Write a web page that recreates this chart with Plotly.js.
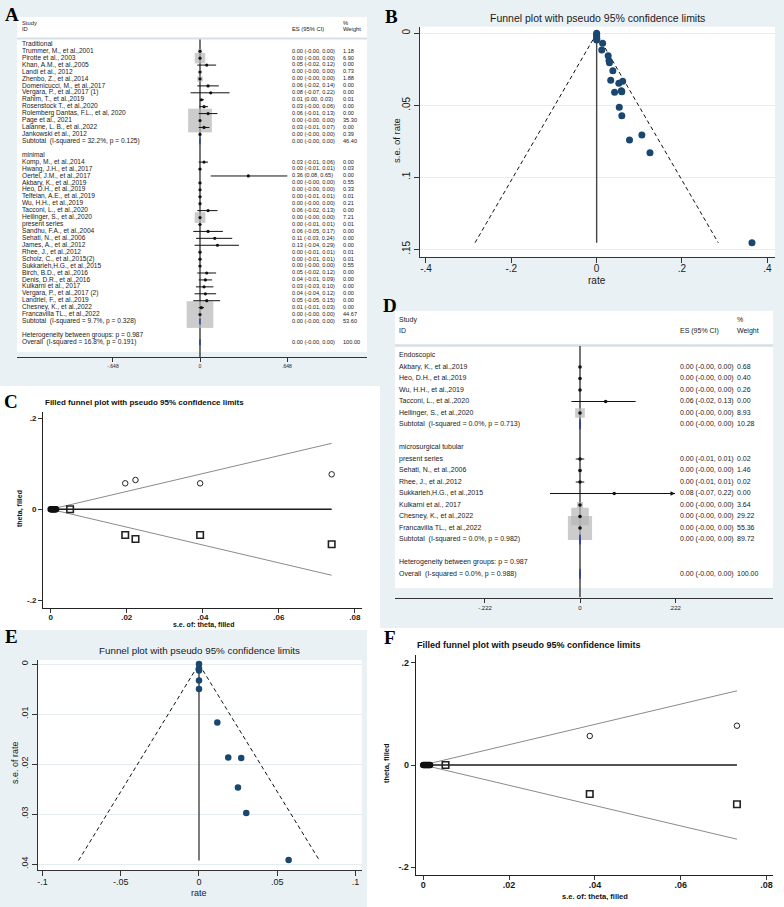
<!DOCTYPE html>
<html><head><meta charset="utf-8">
<script src="https://cdn.plot.ly/plotly-3.0.1.min.js"></script>
<style>html,body{margin:0;padding:0;background:#fff}#chart{width:784px;height:907px}</style>
</head><body><div id="chart"></div>
<script>
// ================= DATA =================
// Panel A: forest plot (Traditional vs minimal)
const aGroupTitles = ["Traditional", "minimal"];
const aTradStudies = ["Trummer, M., et al.,2001","Pirotte et al., 2003","Khan, A.M., et al.,2005","Landi et al., 2012","Zhenbo, Z., et al.,2014","Domenicucci, M., et al.,2017","Vergara, P., et al.,2017 (1)","Rahim, T., et al.,2019","Rosenstock T., et al.,2020","Rolemberg Dantas, F.L., et al, 2020","Page et al., 2021","Lalanne, L. B., et al.,2022","Jankowski et al., 2012"];
const aTradES = [0,0,0.05,0,0,0.06,0.08,0.01,0.03,0.06,0,0.03,0];
const aTradLo = [-0.001,-0.001,-0.02,-0.001,-0.001,-0.02,-0.07,0.002,-0.004,-0.01,-0.001,-0.01,-0.001];
const aTradHi = [0.001,0.001,0.12,0.001,0.001,0.14,0.22,0.03,0.06,0.13,0.001,0.07,0.001];
const aTradWt = [1.18,6.90,0.00,0.73,1.88,0.00,0.00,0.01,0.00,0.00,35.30,0.00,0.39];
const aTradSub = {label:"Subtotal\u00a0 (I-squared = 32.2%, p = 0.125)", es:0, lo:-0.001, hi:0.001, wt:46.40};
const aMinStudies = ["Komp, M., et al.,2014","Hwang, J.H., et al.,2017","Oertel, J.M., et al.,2017","Akbary, K., et al.,2019","Heo, D.H., et al.,2019","Telfeian, A.E., et al.,2019","Wu, H.H., et al.,2019","Tacconi, L., et al.,2020","Hellinger, S., et al.,2020","present series","Sandhu, F.A., et al.,2004","Sehati, N., et al.,2006","James, A., et al.,2012","Rhee, J., et al.,2012","Scholz, C., et al.,2015(2)","Sukkarieh,H.G., et al.,2015","Birch, B.D., et al.,2016","Denis, D.R., et al.,2016","Kulkarni et al., 2017","Vergara, P., et al.,2017 (2)","Landriel, F., et al.,2019","Chesney, K., et al.,2022","Francavilla TL., et al.,2022"];
const aMinES = [0.03,0,0.36,0,0,0,0,0.06,0,0,0.06,0.11,0.13,0,0,0,0.05,0.04,0.03,0.04,0.05,0.01,0];
const aMinLo = [-0.01,-0.01,0.08,-0.001,-0.001,-0.01,-0.001,-0.02,-0.001,-0.01,-0.05,-0.03,-0.04,-0.01,-0.01,-0.001,-0.02,-0.01,-0.03,-0.04,-0.05,-0.01,-0.001];
const aMinHi = [0.06,0.01,0.65,0.001,0.001,0.01,0.001,0.13,0.001,0.01,0.17,0.24,0.29,0.01,0.01,0.001,0.12,0.09,0.10,0.12,0.15,0.03,0.001];
const aMinWt = [0.00,0.03,0.00,0.55,0.33,0.01,0.21,0.00,7.21,0.01,0.00,0.00,0.00,0.01,0.01,0.55,0.00,0.00,0.00,0.00,0.00,0.00,44.67];
const aMinSub = {label:"Subtotal\u00a0 (I-squared = 9.7%, p = 0.328)", es:0, lo:-0.001, hi:0.001, wt:53.60};
const aHetLabel = "Heterogeneity between groups: p = 0.987";
const aOverall = {label:"Overall\u00a0 (I-squared = 16.8%, p = 0.191)", es:0, lo:-0.001, hi:0.001, wt:100.00};
const aTickVals = [-0.648, 0, 0.648];
const aTickText = ["-.648", "0", ".648"];

// Panel B: funnel plot
const bRate = [0,0,0,0,0,0.014,0.012,0.027,0.029,0.030,0.038,0.033,0.052,0.061,0.042,0.058,0.059,0.053,0.059,0.077,0.106,0.125,0.364];
const bSe   = [0,0.001,0.002,0.0035,0.0046,0.0069,0.0116,0.0155,0.019,0.0204,0.0259,0.0326,0.0347,0.0333,0.041,0.0398,0.0405,0.0514,0.0572,0.0741,0.0706,0.0829,0.1454];
const bLimitRate = [-0.285, 0, 0.285];
const bLimitSe = [0.1454, 0, 0.1454];
const bXTickVals = [-0.4,-0.2,0,0.2,0.4];
const bXTickText = ["-.4","-.2","0",".2",".4"];
const bYTickVals = [0,0.05,0.1,0.15];
const bYTickText = ["0",".05",".1",".15"];

// Panel C: filled funnel plot
const cObsSe = [0.0196,0.0223,0.0393,0.0739];
const cObsTheta = [0.0571,0.0644,0.0571,0.0769];
const cFillSe = [0.0051,0.0196,0.0223,0.0393,0.0739];
const cFillTheta = [0,-0.0565,-0.0653,-0.0565,-0.0769];
const cClusterSe = [0,0.0002,0.0004,0.0006,0.0008,0.0010,0.0012,0.0014];
const cClusterTheta = [0,0,0,0,0,0,0,0];
const cLimitSe = [0.0739, 0, 0.0739];
const cLimitTheta = [0.145, 0, -0.145];
const cXTickVals = [0,0.02,0.04,0.06,0.08];
const cXTickText = ["0",".02",".04",".06",".08"];
const cYTickVals = [-0.2,0,0.2];
const cYTickText = ["-.2","0",".2"];

// Panel D: forest plot (Endoscopic vs microsurgical tubular)
const dGroupTitles = ["Endoscopic", "microsurgical tubular"];
const dEndoStudies = ["Akbary, K., et al.,2019","Heo, D.H., et al.,2019","Wu, H.H., et al.,2019","Tacconi, L., et al.,2020","Hellinger, S., et al.,2020"];
const dEndoES = [0,0,0,0.06,0];
const dEndoLo = [-0.001,-0.001,-0.001,-0.02,-0.001];
const dEndoHi = [0.001,0.001,0.001,0.13,0.001];
const dEndoWt = [0.68,0.40,0.26,0.00,8.93];
const dEndoSub = {label:"Subtotal\u00a0 (I-squared = 0.0%, p = 0.713)", es:0, lo:-0.001, hi:0.001, wt:10.28};
const dTubStudies = ["present series","Sehati, N., et al.,2006","Rhee, J., et al.,2012","Sukkarieh,H.G., et al.,2015","Kulkarni et al., 2017","Chesney, K., et al.,2022","Francavilla TL., et al.,2022"];
const dTubES = [0,0,0,0.08,0,0,0];
const dTubLo = [-0.01,-0.001,-0.01,-0.07,-0.001,-0.001,-0.001];
const dTubHi = [0.01,0.001,0.01,0.224,0.001,0.001,0.001];
const dTubWt = [0.02,1.46,0.02,0.00,3.64,29.22,55.36];
const dTubSub = {label:"Subtotal\u00a0 (I-squared = 0.0%, p = 0.982)", es:0, lo:-0.001, hi:0.001, wt:89.72};
const dHetLabel = "Heterogeneity between groups: p = 0.987";
const dOverall = {label:"Overall\u00a0 (I-squared = 0.0%, p = 0.988)", es:0, lo:-0.001, hi:0.001, wt:100.00};
const dTickVals = [-0.222, 0, 0.222];
const dTickText = ["-.222", "0", ".222"];

// Panel E: funnel plot
const eRate = [0,0,0,0,0,0.0117,0.0187,0.0270,0.0249,0.0302,0.0573];
const eSe   = [0,0.0009,0.0013,0.0033,0.005,0.0117,0.0187,0.0188,0.0247,0.0298,0.0392];
const eLimitRate = [-0.077, 0, 0.077];
const eLimitSe = [0.0393, 0, 0.0393];
const eXTickVals = [-0.1,-0.05,0,0.05,0.1];
const eXTickText = ["-.1","-.05","0",".05",".1"];
const eYTickVals = [0,0.01,0.02,0.03,0.04];
const eYTickText = ["0",".01",".02",".03",".04"];

// Panel F: filled funnel plot
const fObsSe = [0.0388,0.0731];
const fObsTheta = [0.0567,0.0768];
const fFillSe = [0.0052,0.0388,0.0731];
const fFillTheta = [0,-0.0567,-0.0768];
const fClusterSe = [0,0.0002,0.0004,0.0006,0.0008,0.0010,0.0012,0.0014,0.0016];
const fClusterTheta = [0,0,0,0,0,0,0,0,0];
const fLimitSe = [0.0731, 0, 0.0731];
const fLimitTheta = [0.145, 0, -0.145];
const fXTickVals = [0,0.02,0.04,0.06,0.08];
const fXTickText = ["0",".02",".04",".06",".08"];
const fYTickVals = [-0.2,0,0.2];
const fYTickText = ["-.2","0",".2"];

// ================= HELPERS =================
const W = 784, H = 907;
const px = v => v / W;
const py = v => 1 - v / H;
const SANS = "Liberation Sans, Arial, sans-serif";
const SERIF = "Liberation Serif, Times New Roman, serif";
const NAVY = "#1a476f";
const BG = "#eaf1f4";
const fmt = v => (v < 0 ? "-" : "") + Math.abs(v).toFixed(2);

function forestRows(groups, hetLabel, overall) {
  const rows = []; let r = 0;
  groups.forEach(g => {
    rows.push({r: r++, label: g.title, kind: "head"});
    g.names.forEach((n, i) => rows.push({r: r++, label: n, es: g.es[i], lo: g.lo[i], hi: g.hi[i], wt: g.wt[i], kind: "study"}));
    rows.push({r: r++, label: g.sub.label, es: g.sub.es, lo: g.sub.lo, hi: g.sub.hi, wt: g.sub.wt, kind: "sub"});
    r++;
  });
  rows.push({r: r++, label: hetLabel, kind: "head"});
  rows.push({r: r++, label: overall.label, es: overall.es, lo: overall.lo, hi: overall.hi, wt: overall.wt, kind: "sub"});
  return rows;
}

function forestTraces(rows, xa, ya, o) {
  const tr = [];
  const studies = rows.filter(d => d.kind === "study");
  const numRows = rows.filter(d => d.kind !== "head");
  const boxed = studies.filter(d => d.wt > 0);
  tr.push({type:"scatter", mode:"lines", xaxis:xa, yaxis:ya, x:[0,0], y:[o.nullTop, o.nullBottom],
    line:{color:"#1a1a1a", width:1.2}, hoverinfo:"skip"});
  tr.push({type:"scatter", mode:"markers", xaxis:xa, yaxis:ya, x:boxed.map(d=>d.es), y:boxed.map(d=>d.r),
    marker:{symbol:"square", size:boxed.map(d=>o.k*Math.sqrt(d.wt)), color:"#b7b7b7", line:{width:0}}, hoverinfo:"skip"});
  tr.push({type:"scatter", mode:"markers", xaxis:xa, yaxis:ya, x:studies.map(d=>d.es), y:studies.map(d=>d.r),
    marker:{symbol:"circle", size:o.dot, color:"#111"},
    error_x:{type:"data", symmetric:false, array:studies.map(d=>Math.min(d.hi,o.clip)-d.es),
      arrayminus:studies.map(d=>d.es-d.lo), width:0, thickness:1, color:"#111"}, hoverinfo:"skip"});
  rows.filter(d => d.kind === "sub").forEach(d => {
    tr.push({type:"scatter", mode:"lines", xaxis:xa, yaxis:ya, fill:"toself", fillcolor:"#2f3f9f",
      x:[d.lo, d.es, d.hi, d.es, d.lo], y:[d.r, d.r-0.42, d.r, d.r+0.42, d.r],
      line:{color:"#2f3f9f", width:1}, hoverinfo:"skip"});
  });
  const tf = (s) => ({family:SANS, size:s, color:"#1a1a1a"});
  tr.push({type:"scatter", mode:"text", xaxis:xa, yaxis:ya, x:rows.map(()=>o.nameX), y:rows.map(d=>d.r),
    text:rows.map(d=>d.label), textposition:"middle right", textfont:tf(o.fName), cliponaxis:false, hoverinfo:"skip"});
  tr.push({type:"scatter", mode:"text", xaxis:xa, yaxis:ya, x:numRows.map(()=>o.esX), y:numRows.map(d=>d.r),
    text:numRows.map(d=>fmt(d.es)+" ("+fmt(d.lo)+", "+fmt(d.hi)+")"), textposition:"middle right", textfont:tf(o.fNum), cliponaxis:false, hoverinfo:"skip"});
  tr.push({type:"scatter", mode:"text", xaxis:xa, yaxis:ya, x:numRows.map(()=>o.wtX), y:numRows.map(d=>d.r),
    text:numRows.map(d=>d.wt.toFixed(2)), textposition:"middle right", textfont:tf(o.fNum), cliponaxis:false, hoverinfo:"skip"});
  tr.push({type:"scatter", mode:"text", xaxis:xa, yaxis:ya,
    x:[o.nameX, o.nameX, o.esX, o.wtX, o.wtX], y:[o.hdr1, o.hdr2, o.hdr2, o.hdr1, o.hdr2],
    text:["Study","ID","ES (95% CI)","%","Weight"], textposition:"middle right", textfont:tf(o.fHead), cliponaxis:false, hoverinfo:"skip"});
  return tr;
}

// ================= BUILD =================
const aRows = forestRows([
  {title:aGroupTitles[0], names:aTradStudies, es:aTradES, lo:aTradLo, hi:aTradHi, wt:aTradWt, sub:aTradSub},
  {title:aGroupTitles[1], names:aMinStudies, es:aMinES, lo:aMinLo, hi:aMinHi, wt:aMinWt, sub:aMinSub}
], aHetLabel, aOverall);
const dRows = forestRows([
  {title:dGroupTitles[0], names:dEndoStudies, es:dEndoES, lo:dEndoLo, hi:dEndoHi, wt:dEndoWt, sub:dEndoSub},
  {title:dGroupTitles[1], names:dTubStudies, es:dTubES, lo:dTubLo, hi:dTubHi, wt:dTubWt, sub:dTubSub}
], dHetLabel, dOverall);

const aRow = p => (p - 44.3) / 6.93;
const dRow = p => (p - 355.5) / 11.5;
const aX = p => (p - 200) / 134.3;
const dX = p => (p - 580) / 428;

let traces = [];
traces = traces.concat(forestTraces(aRows, "x", "y", {
  k:4, dot:3.2, clip:10, nameX:aX(22), esX:aX(292), wtX:aX(343),
  fName:6.6, fNum:5.6, fHead:5.8, hdr1:aRow(24), hdr2:aRow(29.5), nullTop:aRow(39.5), nullBottom:aRow(357)
}));
traces = traces.concat(forestTraces(dRows, "x4", "y4", {
  k:3.25, dot:3.6, clip:dTickVals[2], nameX:dX(399), esX:dX(680), wtX:dX(737),
  fName:7, fNum:7, fHead:7, hdr1:dRow(320), hdr2:dRow(331), nullTop:dRow(346), nullBottom:dRow(597.5)
}));

traces.push({type:"scatter", mode:"lines", xaxis:"x2", yaxis:"y2", x:bLimitRate, y:bLimitSe,
  line:{color:"#111", width:1, dash:"4px,3px"}, hoverinfo:"skip"});
traces.push({type:"scatter", mode:"lines", xaxis:"x2", yaxis:"y2", x:[0,0], y:[0, bLimitSe[0]],
  line:{color:"#444", width:1.4}, hoverinfo:"skip"});
traces.push({type:"scatter", mode:"markers", xaxis:"x2", yaxis:"y2", x:bRate, y:bSe,
  marker:{color:NAVY, size:7}, hoverinfo:"skip"});
traces.push({type:"scatter", mode:"lines", xaxis:"x5", yaxis:"y5", x:eLimitRate, y:eLimitSe,
  line:{color:"#111", width:1, dash:"4px,3px"}, hoverinfo:"skip"});
traces.push({type:"scatter", mode:"lines", xaxis:"x5", yaxis:"y5", x:[0,0], y:[0, eLimitSe[0]],
  line:{color:"#444", width:1.4}, hoverinfo:"skip"});
traces.push({type:"scatter", mode:"markers", xaxis:"x5", yaxis:"y5", x:eRate, y:eSe,
  marker:{color:NAVY, size:6.5}, hoverinfo:"skip"});

function filledTraces(xa, ya, limSe, limTh, obsSe, obsTh, fillSe, fillTh, clSe, clTh) {
  return [
    {type:"scatter", mode:"lines", xaxis:xa, yaxis:ya, x:limSe, y:limTh, line:{color:"#8a8a8a", width:1}, hoverinfo:"skip"},
    {type:"scatter", mode:"lines", xaxis:xa, yaxis:ya, x:[0, limSe[0]], y:[0, 0], line:{color:"#1a1a1a", width:1.4}, hoverinfo:"skip"},
    {type:"scatter", mode:"markers", xaxis:xa, yaxis:ya, x:clSe, y:clTh,
      marker:{symbol:"circle-open", size:5, color:"#111", line:{width:1.6, color:"#111"}}, hoverinfo:"skip"},
    {type:"scatter", mode:"markers", xaxis:xa, yaxis:ya, x:obsSe, y:obsTh,
      marker:{symbol:"circle-open", size:5.5, color:"#222", line:{width:1, color:"#222"}}, hoverinfo:"skip"},
    {type:"scatter", mode:"markers", xaxis:xa, yaxis:ya, x:fillSe, y:fillTh,
      marker:{symbol:"square-open", size:6.5, color:"#222", line:{width:1.6, color:"#222"}}, hoverinfo:"skip"}
  ];
}
traces = traces.concat(filledTraces("x3","y3", cLimitSe, cLimitTheta, cObsSe, cObsTheta, cFillSe, cFillTheta, cClusterSe, cClusterTheta));
traces = traces.concat(filledTraces("x6","y6", fLimitSe, fLimitTheta, fObsSe, fObsTheta, fFillSe, fFillTheta, fClusterSe, fClusterTheta));

// ================= LAYOUT =================
const axBase = {showgrid:false, zeroline:false, showline:true, linecolor:"#333", linewidth:1,
  ticks:"outside", ticklen:5, tickwidth:1, tickcolor:"#333", fixedrange:true};
const tfont = (s, bold) => ({family:SANS, size:s, color:"#1a1a1a", weight: bold ? "bold" : "normal"});

const layout = {
  width:W, height:H, margin:{l:0,r:0,t:0,b:0}, showlegend:false, hovermode:false,
  paper_bgcolor:"#ffffff", plot_bgcolor:"rgba(0,0,0,0)",
  xaxis: Object.assign({}, axBase, {domain:[px(17),px(367)], range:[aX(17),aX(367)], anchor:"y",
    tickvals:aTickVals, ticktext:aTickText, tickfont:tfont(5), ticklen:4}),
  yaxis: {domain:[py(357),py(17)], range:[aRow(357),aRow(17)], visible:false, fixedrange:true, anchor:"x"},
  xaxis2: Object.assign({}, axBase, {domain:[px(420),px(775)], range:[-0.414,0.418], anchor:"y2",
    tickvals:bXTickVals, ticktext:bXTickText, tickfont:tfont(10), ticklabelstandoff:-3}),
  yaxis2: Object.assign({}, axBase, {domain:[py(256.7),py(26.7)], range:[0.1551,-0.0046], anchor:"x2",
    tickvals:bYTickVals, ticktext:bYTickText, tickangle:-90, tickfont:tfont(10), showgrid:true, gridcolor:"#e4ecef", gridwidth:1}),
  xaxis3: Object.assign({}, axBase, {domain:[px(43.3),px(361.7)], range:[-0.00195,0.0818], anchor:"y3",
    linecolor:"#222", linewidth:1.3, ticklen:4, tickvals:cXTickVals, ticktext:cXTickText, tickfont:tfont(8, true), ticklabelstandoff:-3}),
  yaxis3: Object.assign({}, axBase, {domain:[py(607.7),py(411.7)], range:[-0.2163,0.2145], anchor:"x3",
    linecolor:"#222", linewidth:1.3, ticklen:4, tickvals:cYTickVals, ticktext:cYTickText, tickfont:tfont(8, true)}),
  xaxis4: Object.assign({}, axBase, {domain:[px(395),px(773)], range:[dX(395),dX(773)], anchor:"y4",
    tickvals:dTickVals, ticktext:dTickText, tickfont:tfont(6), ticklen:4}),
  yaxis4: {domain:[py(597.5),py(311)], range:[dRow(597.5),dRow(311)], visible:false, fixedrange:true, anchor:"x4"},
  xaxis5: Object.assign({}, axBase, {domain:[px(38),px(361.7)], range:[-0.1029,0.104], anchor:"y5",
    tickvals:eXTickVals, ticktext:eXTickText, tickfont:tfont(9), ticklabelstandoff:-2}),
  yaxis5: Object.assign({}, axBase, {domain:[py(870),py(660)], range:[0.0412,-0.0008], anchor:"x5",
    tickvals:eYTickVals, ticktext:eYTickText, tickangle:-90, tickfont:tfont(9), showgrid:true, gridcolor:"#e4ecef", gridwidth:1}),
  xaxis6: Object.assign({}, axBase, {domain:[px(416),px(773)], range:[-0.00168,0.0815], anchor:"y6",
    linecolor:"#222", linewidth:1.3, ticklen:4, tickvals:fXTickVals, ticktext:fXTickText, tickfont:tfont(9, true), ticklabelstandoff:-3}),
  yaxis6: Object.assign({}, axBase, {domain:[py(875),py(655)], range:[-0.215,0.215], anchor:"x6",
    linecolor:"#222", linewidth:1.3, ticklen:4, tickvals:fYTickVals, ticktext:fYTickText, tickfont:tfont(9, true)}),
  shapes: [],
  annotations: []
};

function rect(x0, y0, x1, y1, color) {
  return {type:"rect", xref:"paper", yref:"paper", x0:px(x0), x1:px(x1), y0:py(y1), y1:py(y0),
    fillcolor:color, line:{width:0}, layer:"below"};
}
function hline(x0, x1, y, color, w) {
  return {type:"line", xref:"paper", yref:"paper", x0:px(x0), x1:px(x1), y0:py(y), y1:py(y),
    line:{color:color, width:w}, layer:"below"};
}
layout.shapes.push(
  rect(0, 0, 784, 386, BG),
  rect(380, 386, 784, 628, BG),
  rect(0, 630, 367, 907, BG),
  rect(17, 17, 367, 352, "#ffffff"),
  rect(420, 26.7, 775, 256.7, "#ffffff"),
  rect(395, 311, 773, 588, "#ffffff"),
  rect(38, 660, 361.7, 870, "#ffffff"),
  hline(17, 367, 38.5, "#d6dfe3", 2),
  hline(395, 773, 345.5, "#d6dfe3", 2.5)
);

function ann(text, x, y, o) {
  return Object.assign({text:text, x:px(x), y:py(y), xref:"paper", yref:"paper", showarrow:false,
    xanchor:"center", yanchor:"middle", font:{family:SANS, size:10, color:"#1a1a1a"}}, o || {});
}
const letterFont = {family:SERIF, size:19, color:"#000", weight:"bold"};
layout.annotations.push(
  ann("A", 12, 15, {font:letterFont}),
  ann("B", 391, 16, {font:letterFont}),
  ann("C", 11, 401, {font:letterFont}),
  ann("D", 390, 305, {font:letterFont}),
  ann("E", 11, 636, {font:letterFont}),
  ann("F", 390, 637, {font:letterFont}),
  ann("Funnel plot with pseudo 95% confidence limits", 597, 18, {font:{family:SANS, size:10.5, color:"#1a1a1a"}}),
  ann("Funnel plot with pseudo 95% confidence limits", 199, 650, {font:{family:SANS, size:9.8, color:"#1a1a1a"}}),
  ann("Filled funnel plot with pseudo 95% confidence limits", 43, 402, {xanchor:"left", font:{family:SANS, size:8, color:"#111", weight:"bold"}}),
  ann("Filled funnel plot with pseudo 95% confidence limits", 415, 645, {xanchor:"left", font:{family:SANS, size:9, color:"#111", weight:"bold"}}),
  ann("rate", 597, 280, {font:{family:SANS, size:10, color:"#1a1a1a"}}),
  ann("s.e. of rate", 397, 141, {textangle:-90, font:{family:SANS, size:9.5, color:"#1a1a1a"}}),
  ann("rate", 199, 893, {font:{family:SANS, size:9, color:"#1a1a1a"}}),
  ann("s.e. of rate", 15, 763, {textangle:-90, font:{family:SANS, size:9, color:"#1a1a1a"}}),
  ann("s.e. of: theta, filled", 203, 625, {font:{family:SANS, size:7, color:"#111", weight:"bold"}}),
  ann("theta, filled", 20, 509, {textangle:-90, font:{family:SANS, size:7, color:"#111", weight:"bold"}}),
  ann("s.e. of: theta, filled", 595, 896, {font:{family:SANS, size:7.5, color:"#111", weight:"bold"}}),
  ann("theta, filled", 386, 763, {textangle:-90, font:{family:SANS, size:7.5, color:"#111", weight:"bold"}})
);
dRows.filter(d => d.kind === "study" && d.hi > dTickVals[2]).forEach(d => {
  layout.annotations.push({x:dTickVals[2], y:d.r, xref:"x4", yref:"y4", ax:-9, ay:0, text:"",
    showarrow:true, arrowhead:2, arrowsize:0.9, arrowwidth:1, arrowcolor:"#111"});
});

Plotly.newPlot("chart", traces, layout, {staticPlot:true, displayModeBar:false});
</script></body></html>
